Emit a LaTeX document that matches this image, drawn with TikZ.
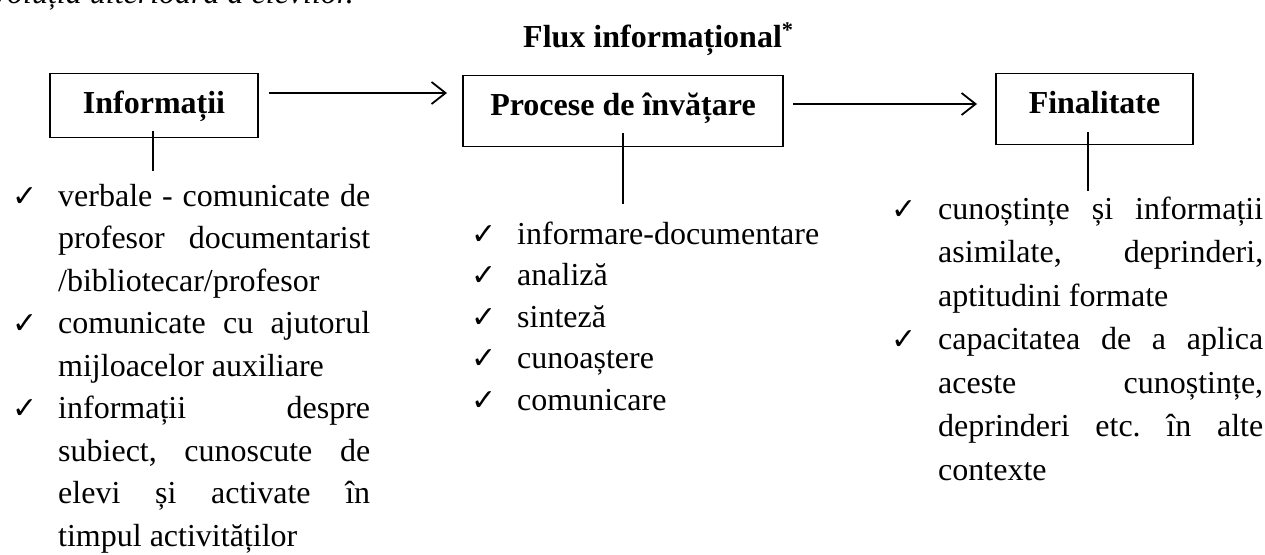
\documentclass[tikz,border=0pt]{standalone}
\usepackage{fontspec}
\setmainfont{Liberation Serif}
\newfontfamily\chkfont{DejaVu Sans}
\usetikzlibrary{arrows.meta}
\frenchspacing
\newcommand\jusL[1]{\makebox[312pt][s]{#1}}
\newcommand\jusR[1]{\makebox[325pt][s]{#1}}
\begin{document}
\begin{tikzpicture}[x=1pt,y=-1pt,
  box/.style={draw, line width=1.3pt, inner sep=0pt, anchor=north, text height=40pt,
    font=\fontsize{32}{38}\selectfont\bfseries},
  link/.style={line width=2.2pt},
  flow/.style={line width=1.8pt, -{Straight Barb[length=14pt,width=22pt,line width=1.8pt]}},
  ltxt/.style={inner sep=0pt, anchor=base west, font=\fontsize{32}{38}\selectfont\frenchspacing},
  chk/.style={inner sep=0pt, anchor=base west, font=\chkfont\fontsize{30}{30}\selectfont},
]
\useasboundingbox (0,0) rectangle (1265,554);
% cropped previous line
\begin{scope}
\clip (0,0) rectangle (1265,554);
\node[ltxt, anchor=base east, font=\fontsize{32}{38}\selectfont\itshape] (prev) at (354,3) {evoluția ulterioară a elevilor.};
\end{scope}
% title
\node[inner sep=0pt, anchor=base west, font=\fontsize{32}{38}\selectfont\bfseries] (title) at (523,47) {Flux informațional\textsuperscript{*}};
% boxes
\node[box, minimum width=208pt, text depth=24pt] (inf) at (154,73) {Informații};
\node[box, minimum width=320pt, text depth=31pt] (proc) at (623,75) {Procese de învățare};
\node[box, minimum width=197pt, text depth=31pt] (fin) at (1094.5,73) {Finalitate};
% arrows
\coordinate (a1s) at (269,93);
\coordinate (a1e) at (447,93);
\coordinate (a2s) at (793,104);
\coordinate (a2e) at (977,104);
\draw[flow] (a1s) -- (a1e);
\draw[flow] (a2s) -- (a2e);
% stems
\draw[link] ([xshift=-1pt,yshift=7pt]inf.south) -- ([xshift=-1pt,yshift=-33pt]inf.south);
\draw[link] ([yshift=14pt]proc.south) -- ([yshift=-57pt]proc.south);
\draw[link] ([xshift=-6.5pt,yshift=13pt]fin.south) -- ([xshift=-6.5pt,yshift=-46pt]fin.south);
% left list
\node[chk] (lc1) at (12,206) {✓};
\node[ltxt] (l1) at (58,206) {\jusL{verbale - comunicate de}};
\node[ltxt] (l2) at (58,248.5) {\jusL{profesor documentarist}};
\node[ltxt] (l3) at (58,291) {/bibliotecar/profesor};
\node[chk] (lc2) at (12,333.5) {✓};
\node[ltxt] (l4) at (58,333.5) {\jusL{comunicate cu ajutorul}};
\node[ltxt] (l5) at (58,376) {mijloacelor auxiliare};
\node[chk] (lc3) at (12,418.5) {✓};
\node[ltxt] (l6) at (58,418.5) {\jusL{informații despre}};
\node[ltxt] (l7) at (58,461) {\jusL{subiect, cunoscute de}};
\node[ltxt] (l8) at (58,503.5) {\jusL{elevi și activate în}};
\node[ltxt] (l9) at (58,546) {timpul activităților};
% middle list
\node[chk] (mc1) at (471,244) {✓};
\node[ltxt] (m1) at (517,244) {informare-documentare};
\node[chk] (mc2) at (471,285.5) {✓};
\node[ltxt] (m2) at (517,285.5) {analiză};
\node[chk] (mc3) at (471,327) {✓};
\node[ltxt] (m3) at (517,327) {sinteză};
\node[chk] (mc4) at (471,368.5) {✓};
\node[ltxt] (m4) at (517,368.5) {cunoaștere};
\node[chk] (mc5) at (471,410) {✓};
\node[ltxt] (m5) at (517,410) {comunicare};
% right list
\node[chk] (rc1) at (891,219) {✓};
\node[ltxt] (r1) at (938,219) {\jusR{cunoștințe și informații}};
\node[ltxt] (r2) at (938,262.5) {\jusR{asimilate, deprinderi,}};
\node[ltxt] (r3) at (938,306) {aptitudini formate};
\node[chk] (rc2) at (891,349.5) {✓};
\node[ltxt] (r4) at (938,349.5) {\jusR{capacitatea de a aplica}};
\node[ltxt] (r5) at (938,393) {\jusR{aceste cunoștințe,}};
\node[ltxt] (r6) at (938,436.5) {\jusR{deprinderi etc. în alte}};
\node[ltxt] (r7) at (938,480) {contexte};
\end{tikzpicture}
\end{document}
